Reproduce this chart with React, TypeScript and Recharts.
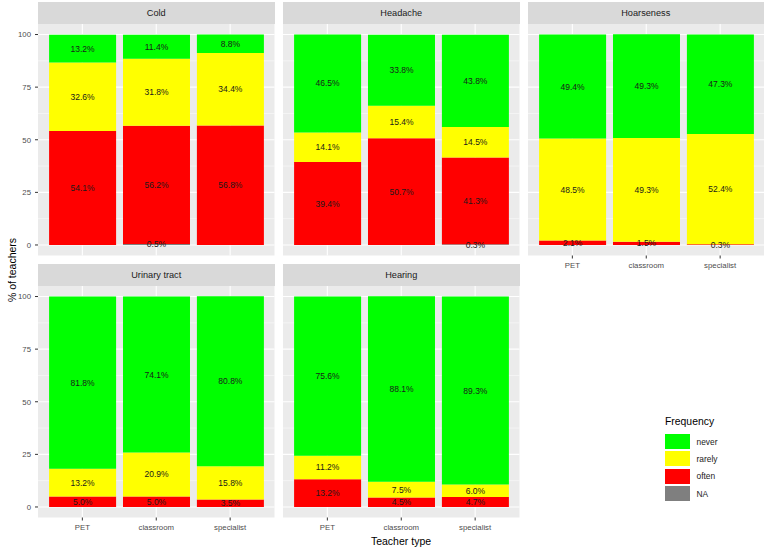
import React from 'react';
import { BarChart, Bar, XAxis, YAxis, CartesianGrid, LabelList } from 'recharts';

const teacherTypes = ['PET', 'classroom', 'specialist'];
const facets = ['Cold', 'Headache', 'Hoarseness', 'Urinary tract', 'Hearing'];

// % of teachers per facet, in the order PET / classroom / specialist
const neverPct = [
  [13.2, 11.4, 8.8],
  [46.5, 33.8, 43.8],
  [49.4, 49.3, 47.3],
  [81.8, 74.1, 80.8],
  [75.6, 88.1, 89.3],
];
const rarelyPct = [
  [32.6, 31.8, 34.4],
  [14.1, 15.4, 14.5],
  [48.5, 49.3, 52.4],
  [13.2, 20.9, 15.8],
  [11.2, 7.5, 6.0],
];
const oftenPct = [
  [54.1, 56.2, 56.8],
  [39.4, 50.7, 41.3],
  [2.1, 1.5, 0.3],
  [5.0, 5.0, 3.5],
  [13.2, 4.5, 4.7],
];
const naPct = [
  [0, 0.5, 0],
  [0, 0, 0.3],
  [0, 0, 0],
  [0, 0, 0],
  [0, 0, 0],
];

const yTicks = [0, 25, 50, 75, 100];
const yMinor = [12.5, 37.5, 62.5, 87.5];

// stacked bottom -> top
const series = [
  { key: 'NA', color: '#7F7F7F' },
  { key: 'often', color: '#FF0000' },
  { key: 'rarely', color: '#FFFF00' },
  { key: 'never', color: '#00FF00' },
];
const legendOrder = ['never', 'rarely', 'often', 'NA'];

const FONT = '"Liberation Sans", Arial, Helvetica, sans-serif';
const COL_X = [38, 283, 527.5];
const ROW_Y = [2.3, 264.3];
const PANEL_W = 236.5;
const STRIP_H = 22;
const PLOT_H = 231.5;

const layout = [
  { row: 0, col: 0, showX: false },
  { row: 0, col: 1, showX: false },
  { row: 0, col: 2, showX: true },
  { row: 1, col: 0, showX: true },
  { row: 1, col: 1, showX: true },
];

const fmt = (v: any) => (typeof v === 'number' && v > 0 ? `${v.toFixed(1)}%` : '');

const Panel = ({ index }: { index: number }) => {
  const { row, col, showX } = layout[index];
  const showY = col === 0;
  const data = teacherTypes.map((t, i) => ({
    type: t,
    never: neverPct[index][i],
    rarely: rarelyPct[index][i],
    often: oftenPct[index][i],
    NA: naPct[index][i],
  }));
  const yW = showY ? 38 : 0;
  const xH = showX ? 22 : 0;
  return (
    <>
      <div
        style={{
          position: 'absolute',
          left: COL_X[col],
          top: ROW_Y[row],
          width: PANEL_W,
          height: STRIP_H,
          background: '#D9D9D9',
          color: '#1A1A1A',
          fontSize: 9.2,
          lineHeight: `${STRIP_H}px`,
          textAlign: 'center',
        }}
      >
        {facets[index]}
      </div>
      <div style={{ position: 'absolute', left: COL_X[col] - yW, top: ROW_Y[row] + STRIP_H }}>
        <BarChart
          width={PANEL_W + yW}
          height={PLOT_H + xH}
          data={data}
          margin={{ top: 0, right: 0, bottom: 0, left: 0 }}
          barCategoryGap="5%"
        >
          <CartesianGrid fill="#EBEBEB" stroke="none" horizontal={false} vertical={false} />
          <CartesianGrid fill="none" stroke="#FFFFFF" strokeWidth={0.5} horizontalValues={yMinor} vertical={false} />
          <CartesianGrid
            fill="none"
            stroke="#FFFFFF"
            strokeWidth={1.1}
            horizontalValues={yTicks}
            verticalValues={teacherTypes}
          />
          <XAxis
            dataKey="type"
            type="category"
            hide={!showX}
            height={xH}
            padding={{ left: 7.4, right: 7.4 }}
            axisLine={false}
            tickLine={{ stroke: '#333333' }}
            tickSize={3}
            tickMargin={4}
            tick={{ fontSize: 7.8, fill: '#4D4D4D', fontFamily: FONT }}
            interval={0}
          />
          <YAxis
            type="number"
            domain={[-5, 105]}
            ticks={yTicks}
            hide={!showY}
            width={yW}
            axisLine={false}
            tickLine={{ stroke: '#333333' }}
            tickSize={3}
            tickMargin={4}
            tick={{ fontSize: 7.8, fill: '#4D4D4D', fontFamily: FONT }}
            allowDataOverflow
          />
          {series.map((s) => (
            <Bar key={s.key} dataKey={s.key} stackId="a" fill={s.color} isAnimationActive={false}>
              <LabelList
                dataKey={s.key}
                position="center"
                formatter={fmt}
                style={{ fontSize: 8.5, fill: '#1A1A1A', fontFamily: FONT }}
              />
            </Bar>
          ))}
        </BarChart>
      </div>
    </>
  );
};

export default function App() {
  const colorOf = (k: string) => series.find((s) => s.key === k)!.color;
  return (
    <div
      style={{
        position: 'absolute',
        left: 0,
        top: 0,
        width: 767,
        height: 551,
        background: '#FFFFFF',
        fontFamily: FONT,
        overflow: 'hidden',
      }}
    >
      {facets.map((f, i) => (
        <Panel key={f} index={i} />
      ))}
      <div
        style={{
          position: 'absolute',
          left: 12,
          top: 270,
          transform: 'translate(-50%, -50%) rotate(-90deg)',
          fontSize: 10.5,
          color: '#000',
          whiteSpace: 'nowrap',
        }}
      >
        % of teachers
      </div>
      <div
        style={{
          position: 'absolute',
          left: 401,
          top: 541,
          transform: 'translate(-50%, -50%)',
          fontSize: 10.5,
          color: '#000',
          whiteSpace: 'nowrap',
        }}
      >
        Teacher type
      </div>
      <div style={{ position: 'absolute', left: 665, top: 416 }}>
        <div style={{ fontSize: 10.4, color: '#000', height: 17 }}>Frequency</div>
        {legendOrder.map((k) => (
          <div key={k} style={{ display: 'flex', alignItems: 'center', height: 17.3 }}>
            <div style={{ width: 24.5, height: 15, background: colorOf(k) }} />
            <span style={{ fontSize: 8.4, color: '#1A1A1A', marginLeft: 7 }}>{k}</span>
          </div>
        ))}
      </div>
    </div>
  );
}
